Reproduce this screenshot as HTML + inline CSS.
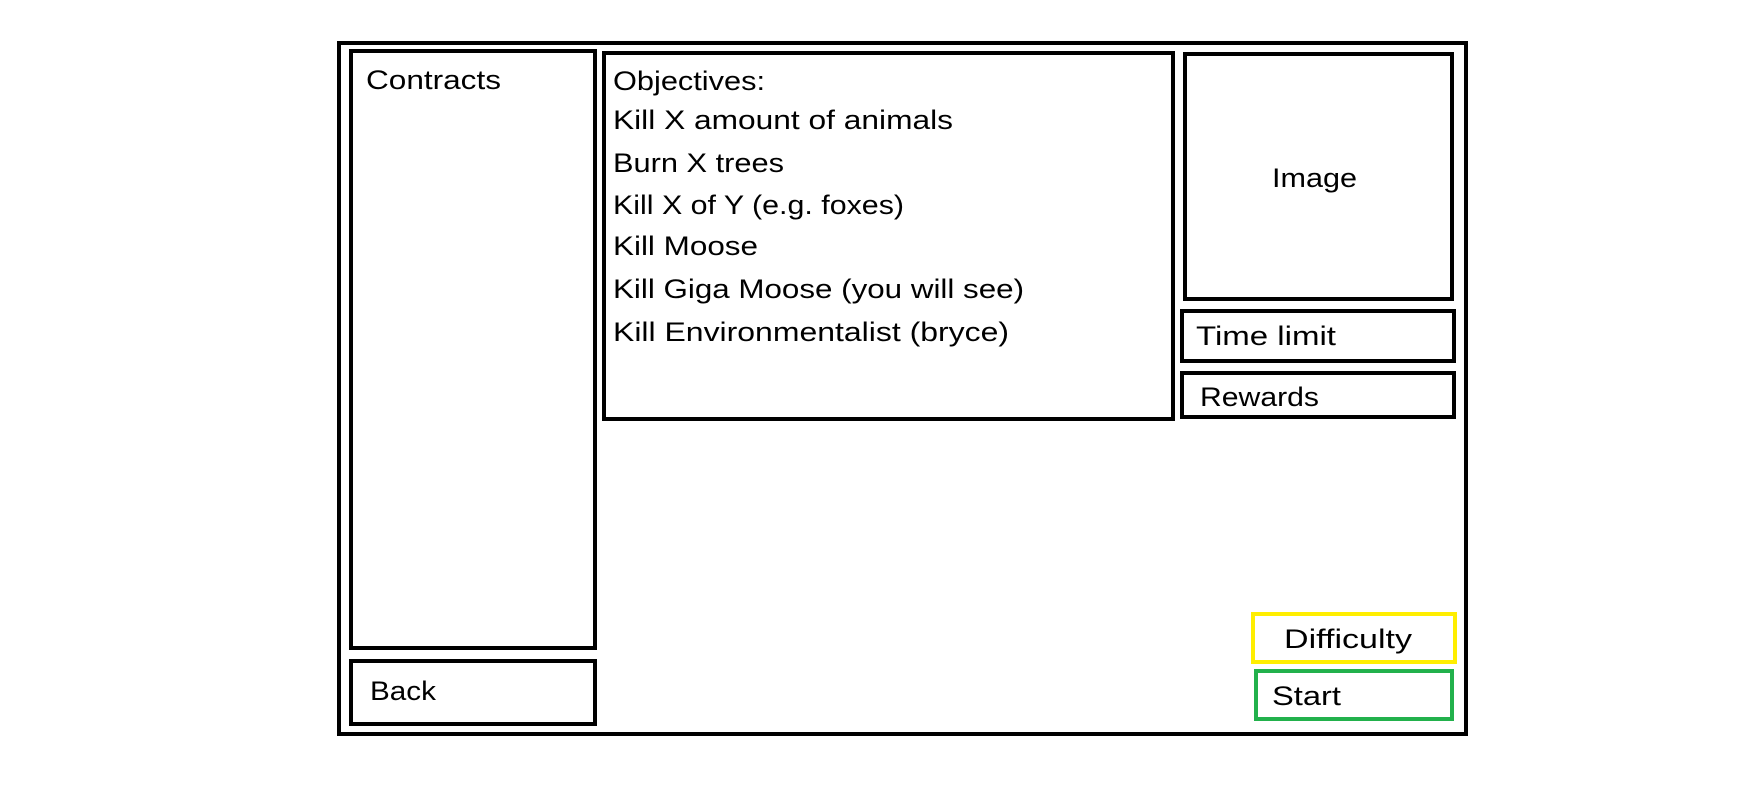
<!DOCTYPE html>
<html><head><style>html,body{margin:0;padding:0;background:#fff;}svg{display:block;}</style></head>
<body>
<svg width="1764" height="798" xmlns="http://www.w3.org/2000/svg" font-family="Liberation Sans, sans-serif" font-size="27" fill="#000">
<rect x="0" y="0" width="1764" height="798" fill="#fff"/>
<g fill="none" stroke="#000" stroke-width="4">
<rect x="339" y="43" width="1127" height="691"/>
<rect x="351" y="51" width="244" height="597"/>
<rect x="351" y="661" width="244" height="63"/>
<rect x="604" y="53" width="569" height="366"/>
<rect x="1185" y="54" width="267" height="245"/>
<rect x="1182" y="311" width="272" height="50"/>
<rect x="1182" y="373" width="272" height="44"/>
<rect x="1253" y="614" width="202" height="48" stroke="#ffee00"/>
<rect x="1256" y="671" width="196" height="48" stroke="#22b14c"/>
</g>
<text x="366" y="89" textLength="135" lengthAdjust="spacingAndGlyphs">Contracts</text>
<text x="613" y="90" textLength="152" lengthAdjust="spacingAndGlyphs">Objectives:</text>
<text x="613" y="129" textLength="340" lengthAdjust="spacingAndGlyphs">Kill X amount of animals</text>
<text x="613" y="172" textLength="171" lengthAdjust="spacingAndGlyphs">Burn X trees</text>
<text x="613" y="214" textLength="291" lengthAdjust="spacingAndGlyphs">Kill X of Y (e.g. foxes)</text>
<text x="613" y="255" textLength="145" lengthAdjust="spacingAndGlyphs">Kill Moose</text>
<text x="613" y="298" textLength="411" lengthAdjust="spacingAndGlyphs">Kill Giga Moose (you will see)</text>
<text x="613" y="341" textLength="396" lengthAdjust="spacingAndGlyphs">Kill Environmentalist (bryce)</text>
<text x="1272" y="187" textLength="85" lengthAdjust="spacingAndGlyphs">Image</text>
<text x="1196" y="345" textLength="140" lengthAdjust="spacingAndGlyphs">Time limit</text>
<text x="1200" y="406" textLength="119" lengthAdjust="spacingAndGlyphs">Rewards</text>
<text x="1284" y="648" textLength="128" lengthAdjust="spacingAndGlyphs">Difficulty</text>
<text x="1272" y="705" textLength="69" lengthAdjust="spacingAndGlyphs">Start</text>
<text x="370" y="700" textLength="66" lengthAdjust="spacingAndGlyphs">Back</text>
</svg>
</body></html>
